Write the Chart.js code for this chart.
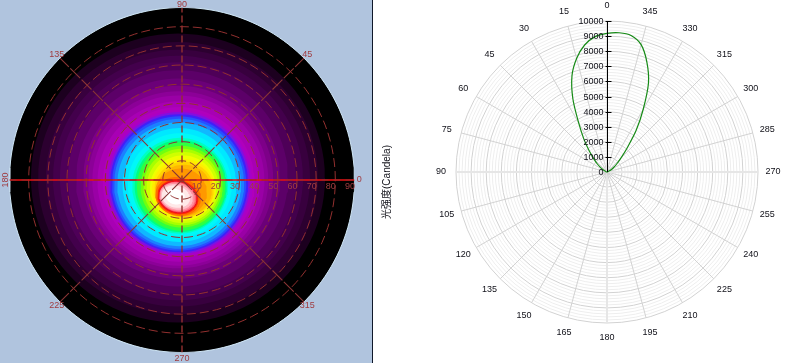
<!DOCTYPE html>
<html><head><meta charset="utf-8">
<script src="https://cdn.jsdelivr.net/npm/chart.js@4"></script>
<style>
html,body{margin:0;padding:0;background:#fff;overflow:hidden}
#left{position:absolute;left:0;top:0;width:372px;height:363px;background:#B0C4DE}
#rule{position:absolute;left:372px;top:0;width:1px;height:363px;background:#10182a}
#right{position:absolute;left:373px;top:0;width:424px;height:363px;background:#fff}
canvas{display:block}
</style></head><body>
<div id="left"><canvas id="map" width="372" height="363"></canvas></div><div id="rule"></div>
<div id="right"><canvas id="polar" width="424" height="363"></canvas></div>
<script>
// ---- left: false-colour map, contours in degrees of polar angle (x right, y up from centre)
const contourColor=['#ffffff','#ffe8e8','#ffc0c8','#ff90a0','#ff6070','#ee1020','#ff3000','#ff7000',
 '#ff9800','#ffb800','#ffd400','#ffee00','#f0ff00','#d0ff00','#a8ff00','#70ff10','#30ff40','#00ff80','#00ffc0',
 '#00f8f8','#00e8ff','#10b8ff','#1c80ff','#2850ff','#4020f8','#8010e0','#a800c8','#b000bc','#a800b4','#9a00a6','#8c0098',
 '#7d0088','#6b0078','#5c0068','#4e0058','#43004c','#38003e','#2c0030','#1c001f','#000000'];
const contourCx=[-3.5,-3.2,-2.8,-2.5,-2.2,-2.2,-2.2,-2,-0.5,1,1,0.8,0.5,0.3,0,-0.2,-0.5,-0.7,-1,-1.2,-1.3,-1.5,-1.5,-1.5,-1.5,-1.5,-1.5,-1.7,-1.8,-1.9,-2,-2,-2.1,-2.1,-2.1,-2.1,-2.1,-2.1,-2.1,0];
const contourCy=[-8.7,-8.7,-8.8,-8.8,-8.9,-8.9,-8.9,-8.6,-6.5,-5.5,-5,-4.5,-4.2,-3.9,-3.7,-3.5,-3.4,-3.2,-3,-2.7,-2.6,-2.2,-2,-1.8,-1.7,-1.6,-1.6,-1.2,-0.8,-0.3,0.1,0.4,0.7,0.9,1,1,1,1,1,0];
const contourRx=[5,7.5,8.6,9.4,9.8,10.4,10.9,12,13.5,14.5,15.5,16.5,17.2,18.8,20.1,21.4,23,24,25,27.1,29.7,32.3,33.9,35,36,37,38.3,39.6,42.3,44.9,47,49.6,53.2,57.4,61.6,65.2,68.9,73,76.7,90];
const contourRy=[4,5.7,6.6,7.3,7.8,8.4,8.9,10,12.5,13.5,14.5,15.5,17,18.6,20,21.3,23,24,25,27.1,29.7,32.3,33.9,35,36,37,38,39.2,41.8,44.4,46.2,48.8,52.2,56.4,60.4,63.8,67,71,75.4,90];
const contourTilt=[-15,-15,-15,-15,-15,-15,-15,-15,0,0,0,0,0,0,0,0,0,0,0,0,0,0,0,0,0,0,0,0,0,0,0,0,0,0,0,0,0,0,0,0];
const ringAngles=[10,20,30,40,50,60,70,80];
const ringLabels=['10','20','30','40','50','60','70','80','90'];
const ringLabelAngles=[10,20,30,40,50,60,70,80,90];
const azimuths=[45,135,225,315];
const azimuthLabels=['45','135','225','315'];

// ---- right: luminous intensity polar plot
const intensityRightOfZero=[9180,9256,9180,8730,7730,6500,4800,3370,2060,1300,850,550,340,180,90,40,10];
const intensityLeftOfZero=[9000,8540,7780,6780,5350,3750,2680,1850,1250,850,530,330,180,90,40,10];
const intensityAxisMax=10000;
const intensityStep=200;
const axisLabelStep=1000;
const labelledEvery=15;
const axisTitle='光强度(Candela)';
const DEG=Math.PI/180;

function ellipse(cx,cy,rx,ry,tilt,n){
  const pts=[],t=tilt*DEG;
  for(let i=0;i<=n;i++){
    const a=i/n*2*Math.PI,u=rx*Math.cos(a),v=ry*Math.sin(a);
    pts.push({x:cx+u*Math.cos(t)-v*Math.sin(t),y:cy+u*Math.sin(t)+v*Math.cos(t)});
  }
  return pts;
}
const GRID='#93302f';
const overlay=[];
overlay.push({data:[{x:-90,y:0},{x:90,y:0}],showLine:true,pointRadius:0,borderColor:'#8c2a2a',borderWidth:1,borderDash:[7,5]});
overlay.push({data:[{x:-90,y:0},{x:90,y:0}],showLine:true,pointRadius:0,borderColor:'#e81010',borderWidth:1.4});
overlay.push({data:[{x:0,y:-90},{x:0,y:90}],showLine:true,pointRadius:0,borderColor:GRID,borderWidth:1.4,borderDash:[7,3]});
for(const az of azimuths){
  overlay.push({data:[{x:0,y:0},{x:90*Math.cos(az*DEG),y:90*Math.sin(az*DEG)}],showLine:true,pointRadius:0,borderColor:'#8a3535',borderWidth:1.1,borderDash:[14,2]});
}
for(const r of ringAngles){
  overlay.push({data:ellipse(0,0,r,r,0,120),showLine:true,pointRadius:0,borderColor:GRID,borderWidth:1,borderDash:[9,4]});
}
overlay.push({data:ellipse(0,0,90,90,0,180),showLine:true,pointRadius:0,borderColor:'#cfe6f5',borderWidth:1});
const filled=contourColor.map((c,i)=>({
  data:ellipse(contourCx[i],contourCy[i],contourRx[i],contourRy[i],contourTilt[i],96),
  showLine:true,pointRadius:0,borderWidth:0,borderColor:c,backgroundColor:c,fill:'shape'
}));
const mapLabels={id:'mapLabels',afterDraw(ch){
  const {ctx,scales:{x,y}}=ch;
  ctx.save();ctx.fillStyle='#a03c40';ctx.font='9px "Liberation Sans"';
  ctx.textAlign='right';ctx.textBaseline='top';
  ringLabelAngles.forEach((a,i)=>ctx.fillText(ringLabels[i],x.getPixelForValue(a)+0.5,y.getPixelForValue(0)+2));
  ctx.textAlign='center';ctx.textBaseline='middle';
  const out=92.5;
  azimuths.forEach((a,i)=>ctx.fillText(azimuthLabels[i],x.getPixelForValue(out*Math.cos(a*DEG)),y.getPixelForValue(out*Math.sin(a*DEG))));
  ctx.fillText('90',x.getPixelForValue(0),y.getPixelForValue(91.5));
  ctx.fillText('270',x.getPixelForValue(0),y.getPixelForValue(-93));
  ctx.fillText('0',x.getPixelForValue(92.5),y.getPixelForValue(0));
  ctx.translate(x.getPixelForValue(-92),y.getPixelForValue(0));ctx.rotate(-Math.PI/2);
  ctx.fillText('180',0,0);
  ctx.restore();
}};
new Chart(document.getElementById('map'),{type:'scatter',
 data:{datasets:[...overlay,...filled]},
 plugins:[mapLabels],
 options:{responsive:false,animation:false,events:[],
  layout:{padding:{left:9.5,right:17.5,top:7.5,bottom:10.5}},
  plugins:{legend:{display:false},tooltip:{enabled:false}},
  scales:{x:{type:'linear',min:-90,max:90,display:false},y:{type:'linear',min:-90,max:90,display:false}}}
});

const N=72;
const categories=[],values=[];
for(let i=0;i<N;i++){
  const deg=(360-i*5)%360;categories.push(String(deg));
  let v=0;
  if(i<intensityRightOfZero.length)v=intensityRightOfZero[i];
  else if(N-i<=intensityLeftOfZero.length)v=intensityLeftOfZero[N-i-1];
  values.push(v);
}
const polarLabels={id:'polarLabels',afterDraw(ch){
  const {ctx}=ch,r=ch.scales.r;
  const d=v=>r.getDistanceFromCenterForValue(v);
  ctx.save();
  ctx.fillStyle='#101018';ctx.font='9px "Liberation Sans"';ctx.textAlign='center';ctx.textBaseline='middle';
  categories.forEach((c,i)=>{
    if(+c%labelledEvery)return;
    const p=r.getPointPosition(i,d(intensityAxisMax)+15);
    ctx.fillText(c,p.x,p.y);
  });
  ctx.strokeStyle='#000';ctx.lineWidth=1;
  const cx=Math.round(r.xCenter)+.5;
  ctx.beginPath();ctx.moveTo(cx,r.yCenter);ctx.lineTo(cx,r.yCenter-d(intensityAxisMax));ctx.stroke();
  ctx.textAlign='right';
  for(let v=0;v<=intensityAxisMax;v+=axisLabelStep){
    const y=Math.round(r.yCenter-d(v))+.5;
    if(v>0){ctx.beginPath();ctx.moveTo(cx-2,y);ctx.lineTo(cx+4,y);ctx.stroke();}
    ctx.fillText(String(v),cx-4,y);
  }
  ctx.translate(14,182);ctx.rotate(-Math.PI/2);ctx.textAlign='center';
  ctx.font='10px "Liberation Sans","Noto Sans CJK SC"';
  ctx.fillText(axisTitle,0,0);
  ctx.restore();
}};
new Chart(document.getElementById('polar'),{type:'radar',
 data:{labels:categories,datasets:[{data:values,borderColor:'#168a16',borderWidth:1.2,backgroundColor:'transparent',pointRadius:0,tension:.3,fill:false}]},
 plugins:[polarLabels],
 options:{responsive:false,animation:false,events:[],
  layout:{padding:{left:83,right:39,top:21,bottom:40}},
  plugins:{legend:{display:false},tooltip:{enabled:false}},
  scales:{r:{min:0,max:intensityAxisMax,
   ticks:{display:false,stepSize:intensityStep},
   pointLabels:{display:false},
   grid:{circular:true,color:c=>c.tick&&c.tick.value%axisLabelStep===0?'#d2d2d2':'#eeeeee',lineWidth:1},
   angleLines:{
     color:c=>{const a=(c.index*5)%360;return a%labelledEvery?'rgba(0,0,0,0)':(a%90===0?'#e6e6e6':'#d2d2d2');},
     lineWidth:c=>{const a=(c.index*5)%360;return a%90===0?2:1;}
   }
  }}}
});
</script></body></html>
